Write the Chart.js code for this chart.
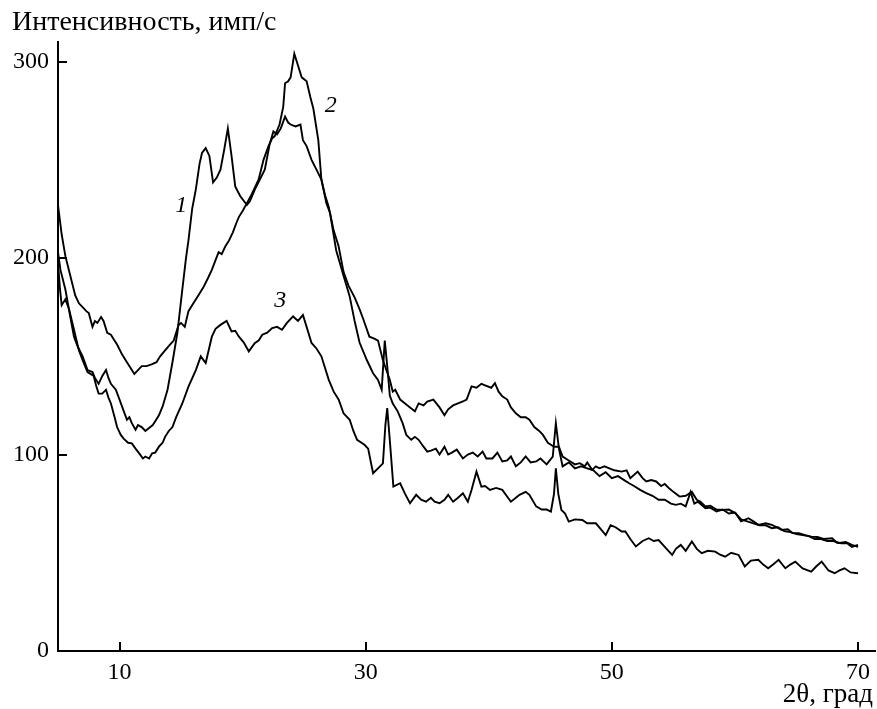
<!DOCTYPE html>
<html>
<head>
<meta charset="utf-8">
<script src="https://cdn.jsdelivr.net/npm/chart.js@4.4.1/dist/chart.umd.min.js"></script>
<style>
html,body{margin:0;padding:0;background:#fff;}
#wrap{width:877px;height:709px;}
</style>
</head>
<body>
<div id="wrap"><canvas id="c" width="877" height="709"></canvas></div>
<script>
// ---- data ----
const xTicks = [10, 30, 50, 70];
const yTicks = [0, 100, 200, 300];

const c1x = [5.0,5.2,5.6,6.0,6.3,6.6,7.0,7.4,7.8,8.0,8.3,8.6,8.9,9.1,9.3,9.7,10.0,10.2,10.6,10.8,11.0,11.3,11.5,11.8,12.1,12.4,12.7,12.9,13.2,13.5,13.9,14.3,14.7,15.1,15.4,15.6,15.9,16.2,16.5,16.7,17.0,17.3,17.6,17.9,18.2,18.5,18.8,19.1,19.4,19.8,20.35,20.6,21.0,21.4,21.8,22.2,22.5,22.8,23.1,23.45,23.7,23.9,24.3,24.7,24.9,25.2,25.6,26.0,26.4,26.8,27.1,27.6,28.2,28.7,29.1,29.5,30.1,30.6,31.0,31.3,31.55,31.75,31.96,32.2,32.6,33.0,33.3,33.7,34.0,34.3,34.7,35.0,35.3,35.7,36.0,36.4,36.7,37.0,37.4,37.9,38.3,38.7,39.1,39.5,39.8,40.3,40.7,41.1,41.5,41.8,42.2,42.6,43.0,43.4,43.85,44.2,44.7,45.2,45.45,45.7,46.0,46.5,47.0,47.5,48.0,48.5,49.0,49.5,50.0,50.5,51.0,51.4,51.8,52.3,52.8,53.3,53.8,54.3,54.8,55.2,55.6,56.0,56.4,56.7,57.0,57.6,58.0,58.5,59.0,59.5,60.0,60.5,61.0,61.5,62.0,62.5,63.0,63.5,64.0,64.5,65.0,65.5,66.0,66.5,67.0,67.5,68.0,68.5,69.0,69.5,70.0];
const c1y = [203,194,184,170,160,155,150,143,142,139,136,140,143,139,136,133,128,124.5,117.7,119,116,112.6,115,114,112,113.5,115,117,120,124.5,133,147,162,184,200,209,225,235,248,253.5,256,252,238.5,241,245,255,266,252,236.5,231.6,227,229,235,240,245,258,264.5,263,266,272,269,268,267,268,260,257,250,245,240,228,223,204,191,180.5,168,157,148,141.4,138,133,158,145,130,126,122,116,110,107.5,109,107.5,104,101.5,102,103,100,104,100,101,102.5,98,100,101,99,101.5,98,98,101,96.5,97,99,94,96,99,96,96.5,98,95,99,116,103,94,96,93,94,93,92,89,91,88,89,87,85.4,84,82,80.4,79,77,77,75,74.4,75,73.6,81,75,76,72.7,73,71,72,70,70.5,67,66,65,64,64,62.5,63,61,60.5,59.5,59,58.5,57,57,56,56,55,55.5,54,53];

const c2x = [5.0,5.3,5.6,6.0,6.4,6.7,7.0,7.3,7.5,7.8,8.0,8.2,8.5,8.7,9.0,9.3,9.5,9.8,10.2,10.6,10.9,11.2,11.5,11.8,12.2,12.65,13.0,13.3,13.7,14.1,14.4,14.8,15.0,15.3,15.6,16.0,16.4,16.8,17.2,17.5,17.8,18.05,18.3,18.6,18.9,19.2,19.5,19.7,20.0,20.35,20.7,21.0,21.3,21.7,22.1,22.4,22.6,23.0,23.3,23.45,23.7,23.9,24.2,24.5,24.8,25.2,25.5,25.75,26.15,26.4,26.7,27.0,27.4,27.8,28.2,28.6,29.1,29.5,29.8,30.3,30.7,31.0,31.4,31.96,32.2,32.4,32.8,33.2,33.6,34.0,34.3,34.7,35.0,35.5,36.0,36.4,36.7,37.1,37.5,37.9,38.2,38.6,39.0,39.4,39.8,40.2,40.5,40.8,41.1,41.5,41.8,42.2,42.6,43.0,43.3,43.7,44.1,44.4,44.8,45.05,45.3,45.7,46.0,46.5,47.0,47.4,47.8,48.0,48.4,48.7,49.0,49.4,49.8,50.2,50.8,51.2,51.5,52.1,52.5,52.8,53.2,53.6,54.0,54.3,54.65,55.0,55.5,56.0,56.5,56.9,57.2,57.6,58.0,58.5,59.0,59.5,60.05,60.5,61.1,61.5,61.9,62.5,63.0,63.4,63.8,64.3,64.7,65.2,65.7,66.2,66.7,67.2,67.9,68.3,68.7,69.1,69.5,70.0];
const c2y = [227,212,201,191,181,177,175,173,172,165,168,167,170,168,162,161,159,156,151,147,144,141,143,145,145,146,147,150,153,156,158,166,167,165,173,177,181,185,190,194,199,203,202,206,209,213,218,221,224,228,232,236,240,250,257,261,262,268,277,289,290,292,304,298,292,290,282,276,260,240,232,226,214,206,193,186,180,174,169,160,159,158,148,138,132,133,128,126,124,122,126,125,127,128,124,120,123,125,126,127,128,134.7,134,136,135,134,136.4,132,129.6,128,124,121,119,119,117.7,114,112,110,106,105,104,104,99,97,95,95.6,94,96,92.2,94,93,94,93,92,91.3,92,88,91.3,88,86.3,87,86.3,84,85,82.8,81,78.6,79,81,77,76,73.6,74,72,71.8,72,70.1,66,67.6,66,64.2,65,64.2,63,61.6,62,60,60,59,58.2,58,57,57.4,55,54.8,55,53,54];

const c3x = [5.0,5.15,5.3,5.6,5.9,6.3,6.7,7.0,7.4,7.9,8.1,8.3,8.6,8.9,9.1,9.3,9.6,9.8,10.1,10.35,10.7,11.0,11.3,11.6,11.9,12.1,12.4,12.65,12.9,13.2,13.5,13.7,14.0,14.3,14.6,15.1,15.6,16.2,16.6,17.0,17.5,17.8,18.2,18.7,19.1,19.4,19.7,20.1,20.5,21.0,21.3,21.6,22.0,22.4,22.8,23.2,23.6,24.1,24.5,24.9,25.2,25.6,26.0,26.4,27.0,27.4,27.8,28.2,28.7,29.0,29.3,29.9,30.2,30.6,31.0,31.4,31.6,31.75,32.0,32.25,32.8,33.2,33.6,34.1,34.5,34.9,35.3,35.6,36.0,36.4,36.7,37.1,37.5,37.9,38.3,38.6,39.0,39.4,39.7,40.1,40.6,41.1,41.8,42.2,42.5,43.0,43.3,43.85,44.3,44.7,45.05,45.3,45.45,45.65,45.9,46.2,46.5,47.0,47.6,48.0,48.4,48.7,49.1,49.5,49.9,50.3,50.8,51.1,51.5,51.95,52.5,53.0,53.4,53.8,54.3,54.9,55.2,55.6,56.0,56.5,56.9,57.3,57.8,58.4,58.8,59.2,59.7,60.3,60.8,61.3,61.9,62.3,62.7,63.1,63.55,64.1,64.5,64.9,65.5,66.2,66.6,67.05,67.6,68.1,68.5,68.9,69.4,70.0];
const c3y = [198,185,176,179,174,163.5,153,148,142,140,135,131,131,133,129,126,119,114,110,108,106,105.7,103,100.6,98,99,98,100.6,101,104,106,109,112,114,119,126,134.6,143,150,146.6,160,164,166,168,162.7,163,160,157,152.5,156.8,158,161,162,164.4,165,163.5,167,170.3,168,171,165,156.8,154,150,138,132,128,121,117.7,112,107.5,105,103,90.5,93,95.5,115,123.6,104,83.7,85.4,80,75.2,79.5,77,76,78,76,75.2,77,79.5,76,78,80.3,76,82,91.3,83.7,84,82,83,82,76,78,79.5,81,79.5,73.6,72,72,71,80,93,80,71.8,70,65.9,67,66.7,65,65,65,62,59,64,63,60.8,60.8,57,53.2,56,57.4,56,56.5,53,48.9,52,54,51,55.7,52,49.8,51,50.6,49,48,50,48.9,43,46,46.4,44,42.1,44,46.4,42.1,44,45.5,42,40.4,43,45.5,41,39.6,41,42.1,40,39.6];

const curveLabels = ['1', '2', '3'];
const labelX = [15.02, 27.17, 23.05];
const labelY = [226.7, 277.6, 178.3];

const yTitle = 'Интенсивность, имп/с';
const xTitle = '2θ, град';

// ---- build ----
function pts(xs, ys) { return xs.map((x, i) => ({x: x, y: ys[i]})); }
const FONT = '"Liberation Serif", "Times New Roman", serif';

const textPlugin = {
  id: 'texts',
  afterDraw(chart) {
    const ctx = chart.ctx;
    const xs = chart.scales.x, ys = chart.scales.y;
    const ca = chart.chartArea;
    ctx.save();
    ctx.strokeStyle = '#000';
    ctx.lineWidth = 2;
    // inward tick marks
    xTicks.forEach(v => {
      const px = Math.round(xs.getPixelForValue(v));
      ctx.beginPath(); ctx.moveTo(px, ca.bottom); ctx.lineTo(px, ca.bottom - 9); ctx.stroke();
    });
    yTicks.forEach(v => {
      const py = Math.round(ys.getPixelForValue(v));
      ctx.beginPath(); ctx.moveTo(ca.left, py); ctx.lineTo(ca.left + 9, py); ctx.stroke();
    });
    ctx.fillStyle = '#000';
    ctx.textBaseline = 'alphabetic';
    ctx.textAlign = 'left';
    ctx.font = '28px ' + FONT;
    ctx.fillText(yTitle, 12, 30);
    ctx.textAlign = 'right';
    ctx.font = '27px ' + FONT;
    ctx.fillText(xTitle, 873, 702);
    ctx.font = 'italic 24px ' + FONT;
    ctx.textAlign = 'center';
    ctx.textBaseline = 'middle';
    curveLabels.forEach((t, i) => {
      ctx.fillText(t, xs.getPixelForValue(labelX[i]), ys.getPixelForValue(labelY[i]));
    });
    ctx.restore();
  }
};

const ds = (d) => ({
  data: d, borderColor: '#000', borderWidth: 1.9, pointRadius: 0,
  tension: 0, fill: false
});

new Chart(document.getElementById('c'), {
  type: 'line',
  data: {
    datasets: [ds(pts(c1x, c1y)), ds(pts(c2x, c2y)), ds(pts(c3x, c3y))]
  },
  options: {
    responsive: false,
    devicePixelRatio: 1,
    animation: false,
    events: [],
    layout: { autoPadding: false, padding: { top: 42, left: 0, right: 0, bottom: 0 } },
    plugins: { legend: { display: false }, tooltip: { enabled: false }, title: { display: false } },
    scales: {
      x: {
        type: 'linear', min: 5, max: 71.4,
        afterBuildTicks: (s) => { s.ticks = xTicks.map(v => ({value: v})); },
        afterFit: (s) => { s.height = 58; },
        grid: { display: true, drawOnChartArea: false, drawTicks: false, color: 'rgba(0,0,0,0)' },
        border: { display: true, color: '#000', width: 2 },
        ticks: { color: '#000', font: { family: FONT, size: 24 }, padding: 7, maxRotation: 0 }
      },
      y: {
        type: 'linear', min: 0, max: 310,
        afterBuildTicks: (s) => { s.ticks = yTicks.map(v => ({value: v})); },
        afterFit: (s) => { s.width = 58; },
        grid: { display: true, drawOnChartArea: false, drawTicks: false, color: 'rgba(0,0,0,0)' },
        border: { display: true, color: '#000', width: 2 },
        ticks: { color: '#000', font: { family: FONT, size: 24 }, padding: 9 }
      }
    }
  },
  plugins: [textPlugin]
});
</script>
</body>
</html>
